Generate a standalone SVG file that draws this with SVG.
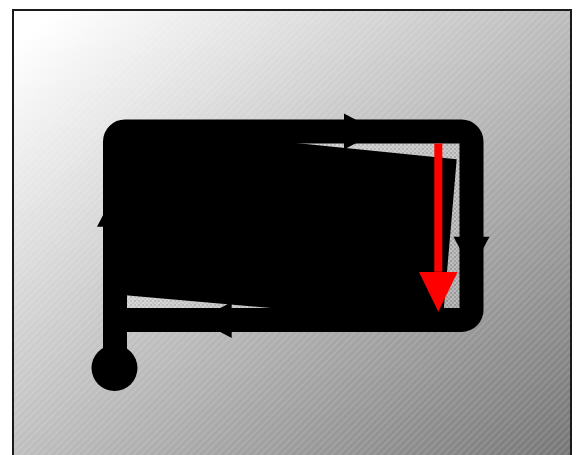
<svg xmlns="http://www.w3.org/2000/svg" width="578" height="455" viewBox="0 0 578 455">
  <defs>
    <linearGradient id="bg" x1="0" y1="0" x2="1" y2="1">
      <stop offset="0.04" stop-color="#ffffff"/>
      <stop offset="1" stop-color="#747474"/>
    </linearGradient>
    <pattern id="stripes" patternUnits="userSpaceOnUse" width="5" height="5" patternTransform="rotate(45)">
      <line x1="1" y1="0" x2="1" y2="5" stroke="#ffffff" stroke-opacity="0.22" stroke-width="1"/>
    </pattern>
    <pattern id="checker" patternUnits="userSpaceOnUse" width="4" height="4">
      <rect x="0" y="0" width="2" height="2" fill="#ffffff" fill-opacity="0.25"/>
      <rect x="2" y="2" width="2" height="2" fill="#ffffff" fill-opacity="0.25"/>
      <rect x="2" y="0" width="2" height="2" fill="#000000" fill-opacity="0.06"/>
    </pattern>
    <marker id="redhead" markerUnits="userSpaceOnUse" markerWidth="40" markerHeight="40" viewBox="0 0 37 36" refX="0" refY="18" orient="auto">
      <path d="M0,0 L37,18 L0,36 Z" fill="#ff0000"/>
    </marker>
    <style>
      .loop { fill: none; stroke: #000; stroke-width: 24; stroke-linejoin: miter; }
      .head { fill: #000; }
    </style>
  </defs>

  <g id="frame">
    <rect x="13" y="10" width="558" height="460" fill="url(#bg)"/>
    <rect x="13" y="10" width="558" height="460" fill="url(#stripes)" stroke="#1a1a1a" stroke-width="2"/>
  </g>

  <g id="interior">
    <rect x="115" y="131.5" width="356.5" height="188.5" fill="url(#checker)"/>
  </g>

  <g id="block">
    <polygon points="114,124.5 456.7,159.3 442.6,323.1 114,294.2" fill="#000"/>
  </g>

  <g id="connectors">
    <path class="loop" d="M115,368 L115,141.5 A10,10 0 0 1 125,131.5 L461.5,131.5 A10,10 0 0 1 471.5,141.5 L471.5,310 A10,10 0 0 1 461.5,320 L115,320"/>
    <polygon class="head" points="344,113.5 378,131.5 344,149.5"/>
    <polygon class="head" points="97,226.7 115,192 133,226.7"/>
    <polygon class="head" points="453.5,236.7 471.5,270.5 489.5,236.7"/>
    <polygon class="head" points="231.7,302 197.5,320 231.7,338"/>
    <line x1="438.3" y1="143.5" x2="438.3" y2="271.7" stroke="#ff0000" stroke-width="8" marker-end="url(#redhead)"/>
  </g>

  <g id="start">
    <circle cx="114.5" cy="368" r="23" fill="#000"/>
  </g>
</svg>
